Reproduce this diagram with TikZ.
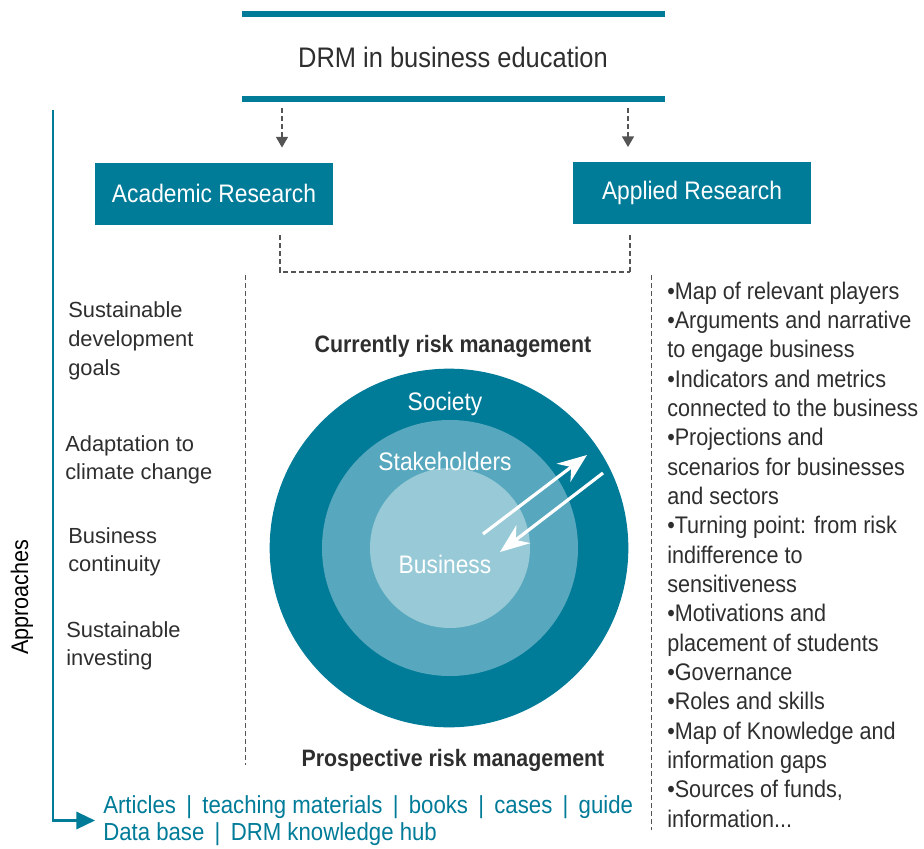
\documentclass[tikz,border=0pt]{standalone}
\usepackage{fontspec}
\setmainfont{Liberation Sans}
\newfontfamily\condfont[FakeStretch=0.9]{Liberation Sans}
\usetikzlibrary{arrows.meta}
\definecolor{drmteal}{HTML}{007B98}
\definecolor{drmmid}{HTML}{57A8BE}
\definecolor{drmlight}{HTML}{97C9D6}
\definecolor{drmtext}{HTML}{2E2E2E}
\definecolor{drmdash}{HTML}{555555}

\begin{document}
\begin{tikzpicture}[x=0.75pt, y=-0.75pt,
block/.style = {rectangle, fill=drmteal, text=white, minimum width=178.5pt,
  minimum height=46.5pt, font=\condfont\fontsize{19}{22}\selectfont},
topic/.style = {align=left, anchor=west, inner sep=0pt, text=drmtext,
  font=\fontsize{16.4}{21.5}\selectfont},
ring/.style = {text=white, font=\condfont\fontsize{19}{22}\selectfont},
heading/.style = {text=drmtext, font=\condfont\bfseries\fontsize{17.8}{20}\selectfont},
dashline/.style = {drmdash, line width=0.9pt, dash pattern=on 3.5pt off 2.5pt},
whitearrow/.style = {white, line width=2.4pt, -{Stealth[length=22pt, width=17pt]}}]
\useasboundingbox (0,0) rectangle (924,849);

% header
\draw [drmteal, line width=3.8pt] (242,14) -- (665,14);
\draw [drmteal, line width=3.8pt] (242,99) -- (665,99);
\node [text=drmtext, font=\condfont\fontsize{21.2}{24}\selectfont] at (453,57) (title) {DRM in business education};

\node [block] at (214,193.5) (acad) {Academic Research};
\node [block] at (692,193) (appl) {Applied Research};

\coordinate (t1) at (282,108);
\coordinate (t2) at (628,108);
\draw [dashline, -{Triangle[length=8pt, width=9pt]}, shorten >=11pt] (t1) -- (t1 |- acad.north);
\draw [dashline, -{Triangle[length=8pt, width=9pt]}, shorten >=11pt] (t2) -- (t2 |- appl.north);

\coordinate (j1) at (280,272);
\coordinate (j2) at (630,272);
\draw [dashline, shorten <=8pt] (acad.south -| j1) -- (j1) -- (j2);
\draw [dashline, shorten >=6pt] (j2) -- (appl.south -| j2);

% column separators
\draw [dashline, line width=0.7pt] (245,275) -- (245,765);
\draw [dashline, line width=0.7pt] (651,275) -- (651,830);

% approaches
\node [rotate=90, font=\condfont\fontsize{18}{20}\selectfont] at (22,597) (appr) {Approaches};
\node [topic] at (68,341) (sdg) {Sustainable\\development\\goals};
\node [topic] at (65,460) (adapt) {Adaptation to\\climate change};
\node [topic] at (68,552) (cont) {Business\\continuity};
\node [topic] at (66,646) (invest) {Sustainable\\investing};

% circles
\node [heading] at (453,346) (now) {Currently risk management};
\fill [drmteal] (449,548) circle (134.5pt);
\fill [drmmid] (450,548) circle (96pt);
\fill [drmlight] (450,548) circle (60pt);
\node [ring] at (445,404) (soc) {Society};
\node [ring] at (445,461) (stake) {Stakeholders};
\node [ring] at (445,564) (bus) {Business};
\coordinate (out1) at (483,534);
\coordinate (out2) at (587,455);
\coordinate (in1) at (603,473);
\coordinate (in2) at (500,552);
\draw [whitearrow] (out1) -- (out2);
\draw [whitearrow] (in1) -- (in2);
\node [heading] at (453,760) (later) {Prospective risk management};

% outputs
\node [anchor=west, align=left, inner sep=0pt, text=drmteal,
  font=\condfont\fontsize{18.5}{20.2}\selectfont] at (103,820.5) (outputs)
  {Articles \,|\, teaching materials \,|\, books \,|\, cases \,|\, guide\\Data base \,|\, DRM knowledge hub};
\draw [drmteal, line width=1.8pt, -{Triangle[length=14pt, width=13pt]}, shorten >=6pt] (53,110) |- (outputs.west);

% applied list
\node [anchor=west, align=left, inner sep=0pt, text=drmtext,
  font=\condfont\fontsize{18}{22}\selectfont] at (667,554.5) (needs)
  {•Map of relevant players\\
  •Arguments and narrative\\
  to engage business\\
  •Indicators and metrics\\
  connected to the business\\
  •Projections and\\
  scenarios for businesses\\
  and sectors\\
  •Turning point: from risk\\
  indifference to\\
  sensitiveness\\
  •Motivations and\\
  placement of students\\
  •Governance\\
  •Roles and skills\\
  •Map of Knowledge and\\
  information gaps\\
  •Sources of funds,\\
  information...};

\end{tikzpicture}
\end{document}
